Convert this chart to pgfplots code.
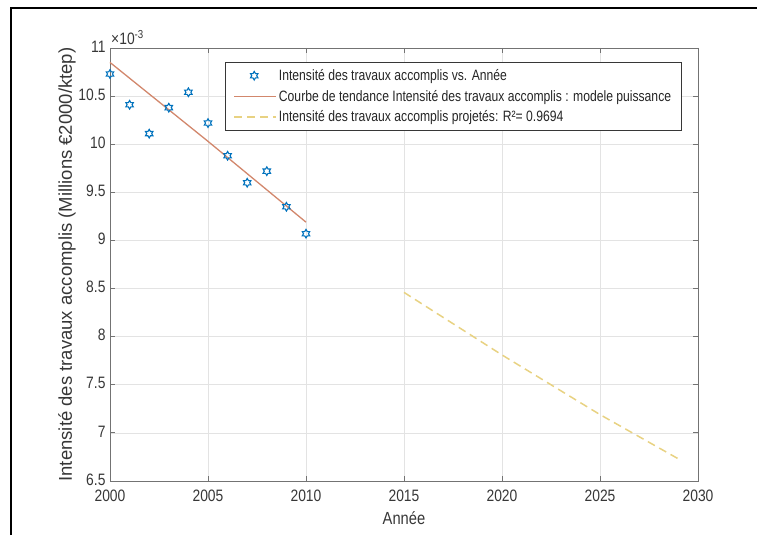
\documentclass[border=0pt]{standalone}
\usepackage{fontspec}
\setmainfont{Liberation Sans}
\newfontfamily\tickfont{Liberation Sans}[FakeStretch=0.84]
\newfontfamily\legfont{Liberation Sans}[FakeStretch=0.81]
\usepackage{pgfplots}
\pgfplotsset{compat=1.18}
\definecolor{mblue}{RGB}{0,114,189}
\definecolor{trend}{RGB}{210,135,108}
\definecolor{proj}{RGB}{232,210,130}
\definecolor{axgray}{RGB}{115,115,115}
\definecolor{txtgray}{RGB}{55,55,55}
\pgfdeclareplotmark{hexagram}{%
  \pgfpathmoveto{\pgfpointpolar{90}{\pgfplotmarksize}}%
  \pgfpathlineto{\pgfpointpolar{120}{0.577\pgfplotmarksize}}%
  \pgfpathlineto{\pgfpointpolar{150}{\pgfplotmarksize}}%
  \pgfpathlineto{\pgfpointpolar{180}{0.577\pgfplotmarksize}}%
  \pgfpathlineto{\pgfpointpolar{210}{\pgfplotmarksize}}%
  \pgfpathlineto{\pgfpointpolar{240}{0.577\pgfplotmarksize}}%
  \pgfpathlineto{\pgfpointpolar{270}{\pgfplotmarksize}}%
  \pgfpathlineto{\pgfpointpolar{300}{0.577\pgfplotmarksize}}%
  \pgfpathlineto{\pgfpointpolar{330}{\pgfplotmarksize}}%
  \pgfpathlineto{\pgfpointpolar{0}{0.577\pgfplotmarksize}}%
  \pgfpathlineto{\pgfpointpolar{30}{\pgfplotmarksize}}%
  \pgfpathlineto{\pgfpointpolar{60}{0.577\pgfplotmarksize}}%
  \pgfpathclose
  \pgfusepathqstroke}
\pgfplotsset{
  leglinelong/.style={legend image code/.code={\draw[##1] (0pt,0pt) -- (42pt,0pt);}},
  legmarkmid/.style={legend image code/.code={\draw[##1] plot coordinates {(20pt,0pt)};}},
}
\begin{document}
\begin{tikzpicture}[x=1pt,y=1pt]
\useasboundingbox (0,0) rectangle (757,535);
\draw[line width=2pt] (11,0) -- (11,527) -- (757,527);
\begin{axis}[
  at={(110pt,54pt)}, anchor=south west,
  scale only axis, width=588pt, height=433pt,
  xmin=2000, xmax=2030, ymin=6.5, ymax=11,
  xtick={2000,2005,...,2030}, ytick={6.5,7,...,11},
  scaled ticks=false,
  /pgf/number format/assume math mode=true,
  /pgf/number format/1000 sep={},
  yticklabel style={/pgf/number format/fixed, xshift=-1pt, yshift=1.5pt},
  xticklabel style={yshift=-5pt},
  tick label style={font=\tickfont\fontsize{16.5}{18}\selectfont, text=txtgray},
  xlabel style={font=\tickfont\fontsize{17.5}{20}\selectfont, text=txtgray, yshift=-4pt},
  ylabel style={font=\fontsize{18.5}{21}\selectfont, text=txtgray, yshift=-4pt},
  xlabel={Année}, ylabel={Intensité des travaux accomplis (Millions €2000/ktep)},
  axis line style={axgray, line width=0.9pt},
  major tick style={axgray, line width=0.9pt},
  major tick length=5pt,
  grid=major, major grid style={gray!22, line width=0.6pt},
  legend cell align=left,
  legend style={at={(0.1956,0.9677)}, anchor=north west, draw=txtgray, line width=0.9pt,
    font=\legfont\fontsize{15}{18}\selectfont, text=black!85, row sep=4pt,
    inner xsep=8pt, inner ysep=5pt},
  clip=false,
]
\addplot[only marks, mark=hexagram, mark size=4.3pt, draw=mblue, line width=1.1pt, legmarkmid]
 coordinates {(2000,10.73) (2001,10.41) (2002,10.11) (2003,10.38) (2004,10.54) (2005,10.22)
 (2006,9.88) (2007,9.60) (2008,9.72) (2009,9.35) (2010,9.07)};
\addlegendentry{Intensité des travaux accomplis vs. Année}
\addplot[trend, line width=1.3pt, no marks, leglinelong]
 coordinates {(2000,10.85) (2005,10.03) (2010,9.19)};
\addlegendentry{Courbe de tendance Intensité des travaux accomplis : modele puissance}
\addplot[proj, line width=1.5pt, no marks, dash pattern=on 8pt off 5pt, leglinelong]
 coordinates {(2015,8.46) (2020,7.81) (2025,7.19) (2029,6.73)};
\addlegendentry{Intensité des travaux accomplis projetés: R²= 0.9694}
\node[anchor=south west, font=\tickfont\fontsize{16.5}{18}\selectfont, text=txtgray, inner sep=1pt, yshift=2pt]
  at (rel axis cs:0,1) {×10\textsuperscript{-3}};
\end{axis}
\end{tikzpicture}
\end{document}
